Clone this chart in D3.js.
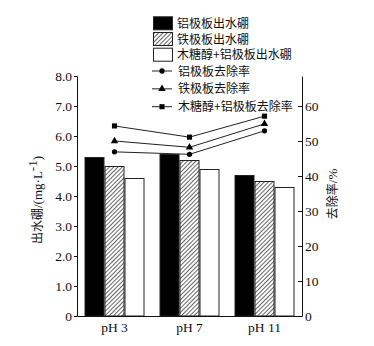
<!DOCTYPE html>
<html>
<head>
<meta charset="utf-8">
<script src="https://cdn.jsdelivr.net/npm/d3@7/dist/d3.min.js"></script>
<style>
  html, body { margin: 0; padding: 0; background: #fff; }
  svg { display: block; }
  text { fill: #111; }
  .num { font-family: "Liberation Serif", "Times New Roman", serif; font-size: 13.5px; }
  .cjk { font-family: "Noto Sans CJK SC", "Liberation Serif", serif; font-size: 12px; }
  .lat { font-family: "Liberation Serif", "Times New Roman", serif; font-size: 13px; }
</style>
</head>
<body>
<svg id="chart" width="374" height="346"></svg>
<script>
// Effluent boron (mg/L) and removal rate (%) at three pH levels
const categories = ["pH 3", "pH 7", "pH 11"];
const barSeries = ["铝极板出水硼", "铁极板出水硼", "木糖醇+铝极板出水硼"];
const alBoron = [5.3, 5.4, 4.7];
const feBoron = [5.0, 5.2, 4.5];
const xylBoron = [4.6, 4.9, 4.3];
const lineSeries = ["铝极板去除率", "铁极板去除率", "木糖醇+铝极板去除率"];
const alRemoval = [46.9, 46.2, 52.9];
const feRemoval = [50.0, 48.2, 54.9];
const xylRemoval = [54.3, 51.1, 57.1];
const leftTicks = [0, 1, 2, 3, 4, 5, 6, 7, 8];
const leftTickLabels = ["0", "1.0", "2.0", "3.0", "4.0", "5.0", "6.0", "7.0", "8.0"];
const rightTicks = [0, 10, 20, 30, 40, 50, 60];

const svg = d3.select("#chart");
const plot = { left: 77, right: 302, top: 76, bottom: 316 };

const x0 = d3.scaleBand().domain(categories)
  .range([plot.left, plot.right]).paddingInner(0.2).paddingOuter(0.1);
const x1 = d3.scaleBand().domain(barSeries).range([0, x0.bandwidth()]);
const yL = d3.scaleLinear().domain([0, 8]).range([plot.bottom, plot.top]);
const yR = d3.scaleLinear().domain([0, 68.57]).range([plot.bottom, plot.top]);

// hatch fill for the iron-plate bars
const defs = svg.append("defs");
const pat = defs.append("pattern").attr("id", "hatch")
  .attr("patternUnits", "userSpaceOnUse").attr("width", 3).attr("height", 3)
  .attr("patternTransform", "rotate(-45)");
pat.append("rect").attr("width", 3).attr("height", 3).attr("fill", "#fff");
pat.append("line").attr("x1", 0).attr("y1", 0).attr("x2", 3).attr("y2", 0)
  .attr("stroke", "#333").attr("stroke-width", 1.5);

const fills = ["#000", "url(#hatch)", "#fff"];
const barData = [alBoron, feBoron, xylBoron];

// bars
barSeries.forEach((s, si) => {
  svg.append("g").selectAll("rect").data(categories).join("rect")
    .attr("x", c => x0(c) + x1(s) + 0.5)
    .attr("y", (c, i) => yL(barData[si][i]) + 0.5)
    .attr("width", x1.bandwidth() - 1)
    .attr("height", (c, i) => plot.bottom - yL(barData[si][i]) - 0.5)
    .attr("fill", fills[si])
    .attr("stroke", "#222").attr("stroke-width", 1);
});

// axes
const leftAxis = d3.axisLeft(yL).tickValues(leftTicks)
  .tickFormat((d, i) => leftTickLabels[i]).tickSizeOuter(0).tickSize(3).tickPadding(2);
const gL = svg.append("g").attr("transform", `translate(${plot.left},0)`).call(leftAxis);
gL.select(".domain").attr("stroke", "#111");
gL.selectAll(".tick line").attr("stroke", "#111");
gL.selectAll(".tick text").attr("class", "num").attr("fill", "#111");

const rightAxis = d3.axisRight(yR).tickValues(rightTicks).tickSizeOuter(0).tickSize(0).tickPadding(3);
const gR = svg.append("g").attr("transform", `translate(${plot.right},0)`).call(rightAxis);
gR.select(".domain").attr("stroke", "#111");
gR.selectAll(".tick").append("line").attr("x1", -4).attr("x2", 0).attr("stroke", "#111");
gR.selectAll(".tick text").attr("class", "num").attr("fill", "#111");

const bottomAxis = d3.axisBottom(x0).tickSize(0).tickSizeOuter(0).tickPadding(6);
const gB = svg.append("g").attr("transform", `translate(0,${plot.bottom})`).call(bottomAxis);
gB.select(".domain").attr("stroke", "#111");
gB.selectAll(".tick text").attr("class", "num").attr("fill", "#111");

// removal rate lines
const lineData = [alRemoval, feRemoval, xylRemoval];
const markers = [d3.symbolCircle, d3.symbolTriangle, d3.symbolSquare];
const markerSize = [22, 24, 26];
const cx = c => x0(c) + x0.bandwidth() / 2;
const line = d3.line().x((d, i) => cx(categories[i])).y(d => yR(d));
lineData.forEach((vals, li) => {
  svg.append("path").datum(vals).attr("d", line)
    .attr("fill", "none").attr("stroke", "#222").attr("stroke-width", 1);
  svg.append("g").selectAll("path").data(vals).join("path")
    .attr("d", d3.symbol(markers[li], markerSize[li]))
    .attr("transform", (d, i) => `translate(${cx(categories[i])},${yR(d)})`)
    .attr("fill", "#000");
});

// axis titles
svg.append("text").attr("class", "cjk")
  .attr("transform", "translate(42,200) rotate(-90)")
  .attr("text-anchor", "middle")
  .html('出水硼<tspan class="lat">/(mg·L</tspan><tspan class="lat" dy="-5" font-size="8">-1</tspan><tspan class="lat" dy="5">)</tspan>');
svg.append("text").attr("class", "cjk")
  .attr("transform", "translate(337,194) rotate(-90)")
  .attr("text-anchor", "middle")
  .html('去除率<tspan class="lat">/%</tspan>');

// legend: bar swatches
const legBarY = d3.scaleLinear().domain([0, 2]).range([23.3, 54.7]);
barSeries.forEach((s, i) => {
  svg.append("rect")
    .attr("x", 153.5).attr("y", legBarY(i) - 6.5).attr("width", 19).attr("height", 13)
    .attr("fill", fills[i]).attr("stroke", "#222").attr("stroke-width", 1);
  svg.append("text").attr("class", "cjk")
    .attr("x", 177).attr("y", legBarY(i) + 4.5).text(s);
});
// legend: line entries
const legLineY = d3.scaleLinear().domain([0, 2]).range([71, 106.7]);
lineSeries.forEach((s, i) => {
  const y = legLineY(i);
  svg.append("line").attr("x1", 152).attr("x2", 172).attr("y1", y).attr("y2", y)
    .attr("stroke", "#222").attr("stroke-width", 1);
  svg.append("path").attr("d", d3.symbol(markers[i], markerSize[i]))
    .attr("transform", `translate(162,${y})`).attr("fill", "#000");
  svg.append("text").attr("class", "cjk")
    .attr("x", 178).attr("y", y + 4.5).text(s);
});
</script>
</body>
</html>
